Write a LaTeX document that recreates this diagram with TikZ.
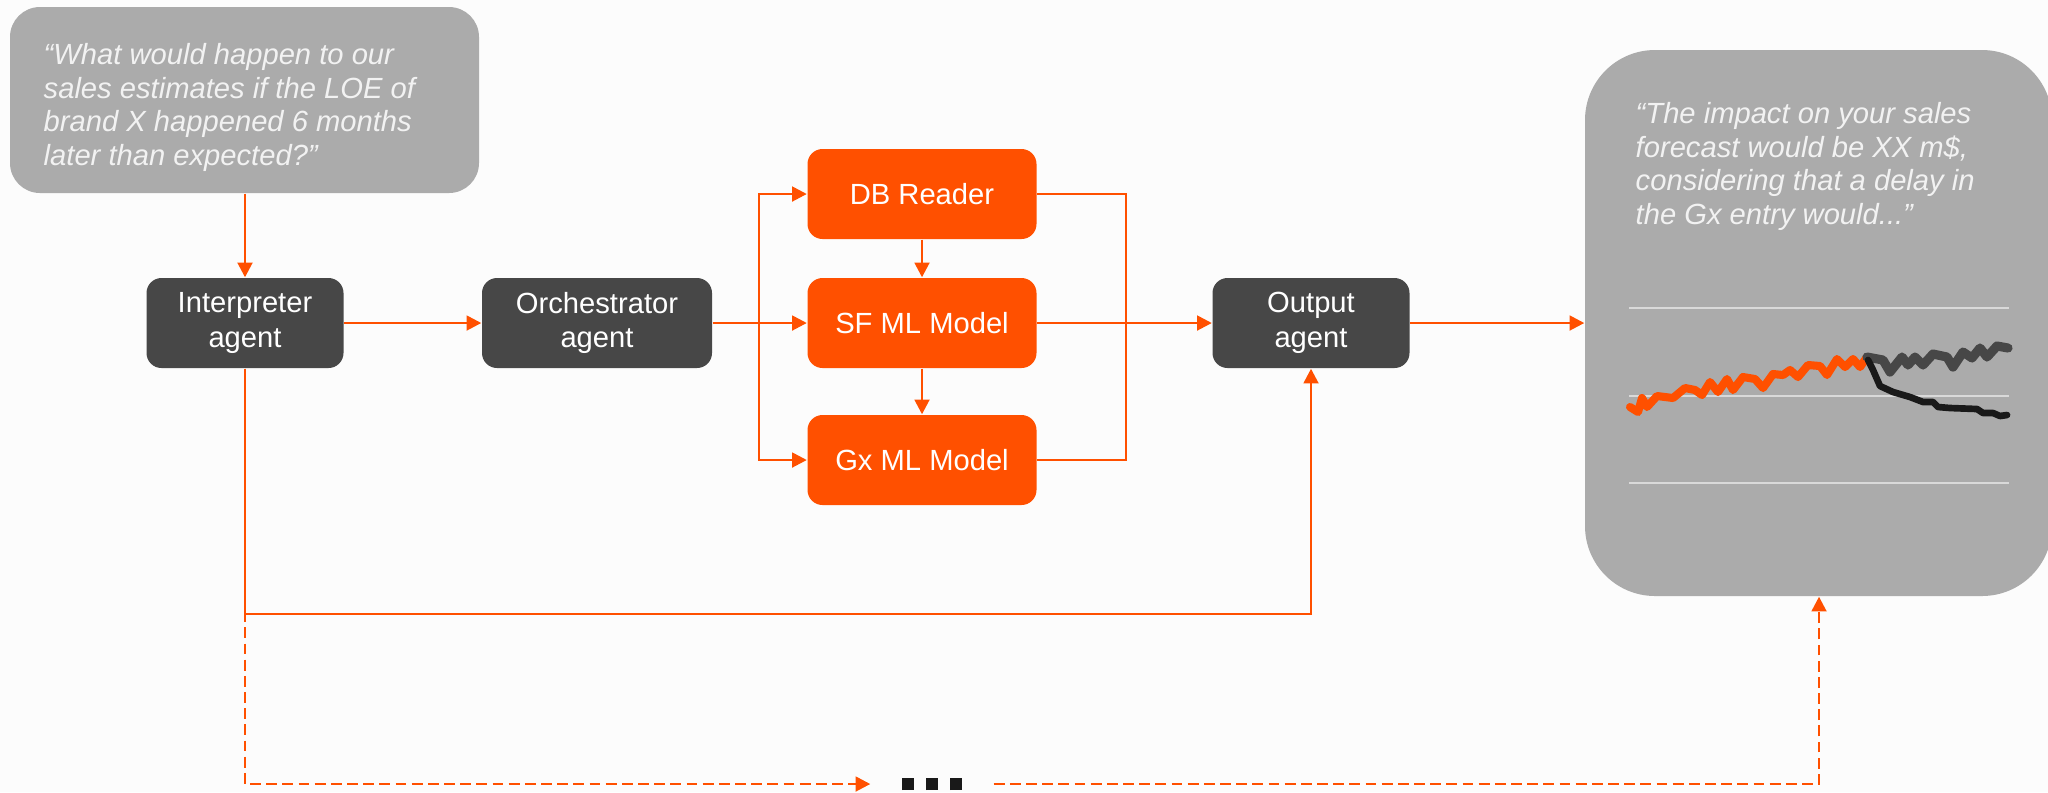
\documentclass[tikz,border=0pt]{standalone}
\usepackage{fontspec}
\setmainfont{Liberation Sans}
\usetikzlibrary{arrows.meta}
\definecolor{accent}{HTML}{FF5000}
\definecolor{agentgray}{HTML}{474747}
\definecolor{bubblegray}{HTML}{ABABAB}
\definecolor{bubbletext}{HTML}{F2F2F2}
\definecolor{gridgray}{HTML}{D9D9D9}
\definecolor{paper}{HTML}{FCFCFC}

\begin{document}
\begin{tikzpicture}
    [
    x=0.1mm, y=-0.1mm,
    agent/.style={rectangle,rounded corners=1.5mm,fill=agentgray,text=white,align=center,minimum width=19.7mm,minimum height=9mm,font=\fontsize{8.3}{9.9}\selectfont},
    model/.style={agent,fill=accent,minimum width=22.9mm},
    bubble/.style={rectangle,fill=bubblegray},
    saying/.style={anchor=north west,inner sep=0pt,align=left,text=bubbletext,font=\fontsize{8.3}{9.55}\selectfont\itshape},
    flow/.style={->,>={Triangle[length=4.2pt,width=4.2pt]},draw=accent,line width=0.75pt},
    later/.style={flow,dash pattern=on 3.1pt off 1.5pt},
    trend/.style={line width=2.3pt,line join=round,line cap=round}
    ]
\useasboundingbox[fill=paper] (0,0) rectangle (2048,792);

% speech bubbles
\node[bubble,rounded corners=3mm,minimum width=46.9mm,minimum height=18.6mm] (question) at (244.5,100) {};
\node[saying] (ask) at (43,43) {“What would happen to our\\sales estimates if the LOE of\\brand X happened 6 months\\later than expected?”};
\node[bubble,rounded corners=7mm,minimum width=46.7mm,minimum height=54.6mm] (answer) at (1818.5,323) {};
\node[saying] (reply) at (1635,102) {“The impact on your sales\\forecast would be XX m\$,\\considering that a delay in\\the Gx entry would...”};

% agents and models
\node[agent] (interpreter) at (245,323) {Interpreter\\agent};
\node[agent,minimum width=23mm] (orchestrator) at (597,323) {Orchestrator\\agent};
\node[model] (dbreader) at (922,194) {DB Reader};
\node[model] (sfmodel) at (922,323) {SF ML Model};
\node[model] (gxmodel) at (922,460) {Gx ML Model};
\node[agent] (output) at (1311,323) {Output\\agent};
\node[inner sep=0pt,minimum width=12.2mm,text=black!90] (dots) at (932,784) {\rule{3.4pt}{3.4pt}\hspace{3.4pt}\rule{3.4pt}{3.4pt}\hspace{3.4pt}\rule{3.4pt}{3.4pt}};

\coordinate (split) at (759,323);
\coordinate (join) at (1126,323);
\coordinate (low) at (0,614);
\coordinate (back) at (1819,0);

% connectors
\draw[flow] (question.south -| interpreter.north) -- (interpreter.north);
\draw[flow] (interpreter) -- (orchestrator);
\draw[flow] (orchestrator) -- (sfmodel);
\draw[flow] (split) |- (dbreader);
\draw[flow] (split) |- (gxmodel);
\draw[flow] (dbreader) -- (sfmodel);
\draw[flow] (sfmodel) -- (gxmodel);
\draw[flow,-] (dbreader) -| (join) |- (gxmodel);
\draw[flow] (sfmodel) -- (output);
\draw[flow] (output) -- (output -| answer.west);
\draw[flow] (interpreter) |- (low -| output) -- (output);
\draw[later] (interpreter.south) |- (dots);
\draw[later] (dots) -| (back |- answer.south);

% chart
\foreach \y in {308,396,483}
    \draw[gridgray,line width=0.6pt] (1629,\y) -- (2009,\y);
\draw[trend,accent] (1630,407) -- (1638,412) -- (1642,398) -- (1647,407) -- (1657,396) -- (1673,398) -- (1685,388) -- (1695,390) -- (1702,395) -- (1710,382) -- (1718,392) -- (1727,379) -- (1733,390) -- (1743,377) -- (1755,379) -- (1763,388) -- (1773,374) -- (1783,375) -- (1790,370) -- (1798,377) -- (1808,365) -- (1820,366) -- (1827,375) -- (1837,359) -- (1845,367) -- (1853,359) -- (1860,367) -- (1867,357);
\draw[trend,agentgray,line width=2.6pt] (1867,357) -- (1883,360) -- (1890,372) -- (1902,357) -- (1908,365) -- (1915,357) -- (1923,365) -- (1933,354) -- (1947,357) -- (1953,367) -- (1963,352) -- (1972,358) -- (1980,348) -- (1987,357) -- (1997,346) -- (2008,348);
\draw[trend,black!90,line width=1.9pt] (1868,360) -- (1873,370) -- (1880,386) -- (1893,392) -- (1910,397) -- (1923,402) -- (1933,402) -- (1938,407) -- (1950,408) -- (1977,409) -- (1983,413) -- (1993,413) -- (2000,416) -- (2007,415);
\end{tikzpicture}
\end{document}
